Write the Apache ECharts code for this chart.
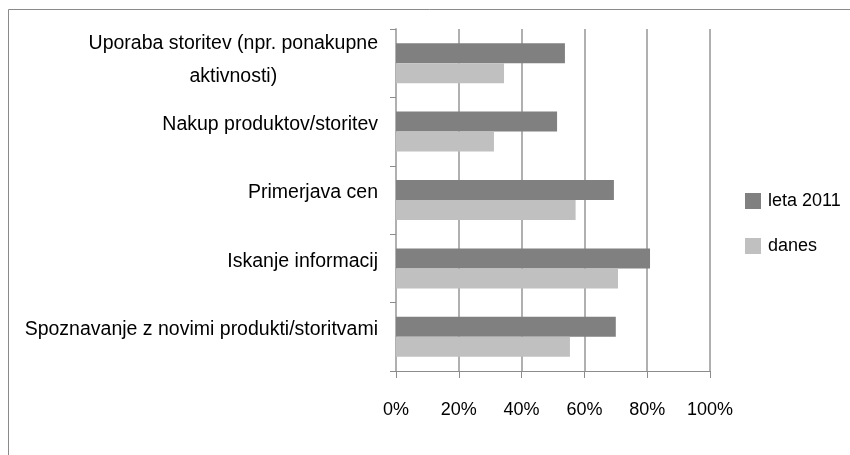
<!DOCTYPE html>
<html>
<head>
<meta charset="utf-8">
<script src="https://cdn.jsdelivr.net/npm/echarts@6/dist/echarts.min.js"></script>
<style>html,body{margin:0;padding:0;background:#fff}#c{width:850px;height:455px}</style>
</head>
<body>
<div id="c"></div>
<script>
// categories listed bottom -> top
const categories = [
  'Spoznavanje z novimi produkti/storitvami',
  'Iskanje informacij',
  'Primerjava cen',
  'Nakup produktov/storitev',
  'Uporaba storitev (npr. ponakupne\naktivnosti)'
];
const leta2011 = [70.0, 80.9, 69.4, 51.3, 53.8];
const danes = [55.4, 70.7, 57.2, 31.2, 34.4];
const tickLabels = ['0%', '20%', '40%', '60%', '80%', '100%'];

const FONT = '"Liberation Sans", Arial, sans-serif';
const chart = echarts.init(document.getElementById('c'));
chart.setOption({
  animation: false,
  backgroundColor: '#fff',
  textStyle: { fontFamily: FONT },
  graphic: [{
    type: 'rect', shape: { x: 8.5, y: 9.5, width: 1000, height: 1000 },
    style: { fill: 'none', stroke: '#8a8a8a', lineWidth: 1 }, silent: true, z: -10
  }],
  grid: { left: 396, right: 140, top: 29, bottom: 84 },
  legend: {
    orient: 'vertical', left: 740, top: 187, itemWidth: 16, itemHeight: 16, itemGap: 27,
    icon: 'rect', data: ['leta 2011', 'danes'],
    textStyle: { fontFamily: FONT, fontSize: 18, color: '#000', padding: [0, 0, 0, 2] }
  },
  xAxis: {
    type: 'value', min: 0, max: 100, interval: 20,
    axisLine: { show: true, lineStyle: { color: '#8c8c8c', width: 1 } },
    axisTick: { show: true, length: 7, lineStyle: { color: '#8c8c8c' } },
    splitLine: { show: true, lineStyle: { color: '#b0b0b0', width: 2 } },
    axisLabel: {
      margin: 30, fontSize: 18, color: '#000', fontFamily: FONT,
      formatter: v => tickLabels[Math.round(v / 20)]
    }
  },
  yAxis: {
    type: 'category',
    data: categories.map((c, i) => i === 4
      ? { value: c, textStyle: { lineHeight: 33, padding: [0, 0, 6, 0] } }
      : { value: c, textStyle: { padding: [0, 0, 14, 0] } }),
    axisLine: { show: true, lineStyle: { color: '#b0b0b0', width: 2 } },
    axisTick: { show: true, length: 6, lineStyle: { color: '#8c8c8c' } },
    axisLabel: {
      margin: 18, fontSize: 19.5, color: '#000', fontFamily: FONT,
      formatter: v => v.split('\n').map(s => '{c|' + s + '}').join('\n'),
      rich: { c: { align: 'center', fontSize: 19.5, fontFamily: FONT, color: '#000' } }
    }
  },
  series: [
    { name: 'leta 2011', type: 'bar', data: leta2011, barWidth: 20, barGap: '0%', itemStyle: { color: '#808080' } },
    { name: 'danes', type: 'bar', data: danes, barWidth: 20, barGap: '0%', itemStyle: { color: '#c0c0c0' } }
  ]
});
</script>
</body>
</html>
